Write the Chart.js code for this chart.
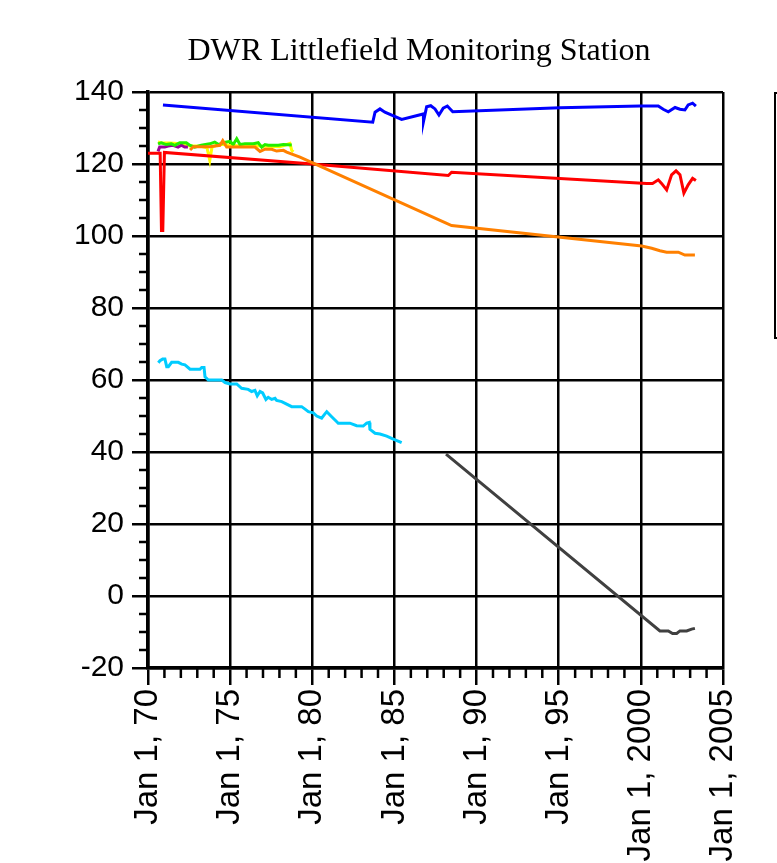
<!DOCTYPE html>
<html>
<head>
<meta charset="utf-8">
<script src="https://cdn.jsdelivr.net/npm/chart.js@4"></script>
<style>
  body { margin: 0; background: #fff; }
  canvas { display: block; }
</style>
</head>
<body>
<canvas id="levelChart" width="777" height="863"></canvas>
<script>
// Water levels (decimal year, level)
const blueYears = [1970.91, 1983.68, 1983.82, 1984.12, 1984.42, 1985.44, 1986.76, 1986.77, 1986.96, 1987.21, 1987.47, 1987.71, 1987.97, 1988.22, 1988.55, 1995.08, 1999.95, 2001.06, 2001.36, 2001.67, 2002.08, 2002.38, 2002.68, 2002.88, 2003.15, 2003.35];
const blueLevels = [136.4, 131.6, 134.4, 135.3, 134.4, 132.4, 133.9, 131.8, 135.9, 136.2, 135.3, 133.6, 135.5, 136.1, 134.5, 135.6, 136.1, 136.1, 135.2, 134.5, 135.7, 135.2, 135.0, 136.4, 136.9, 136.1];

const redYears = [1970.0, 1970.74, 1970.82, 1970.9, 1971.0, 1980.0, 1988.28, 1988.48, 2000.35, 2000.71, 2001.06, 2001.26, 2001.57, 2001.87, 2002.14, 2002.38, 2002.62, 2002.88, 2003.15, 2003.35];
const redLevels = [123.0, 123.0, 101.5, 101.5, 123.2, 120.0, 116.8, 117.7, 114.6, 114.6, 115.6, 114.6, 112.8, 117.0, 118.1, 117.0, 111.9, 114.2, 116.0, 115.4];

const orangeYears = [1972.56, 1972.76, 1973.77, 1974.38, 1974.55, 1974.79, 1976.51, 1976.82, 1977.12, 1977.53, 1977.83, 1978.24, 1978.44, 1979.25, 1988.08, 1988.48, 2000.05, 2000.66, 2001.16, 2001.57, 2002.28, 2002.68, 2003.29];
const orangeLevels = [123.9, 124.8, 124.8, 125.2, 126.5, 124.7, 124.7, 123.5, 124.1, 124.1, 123.6, 123.8, 123.3, 121.9, 103.7, 102.9, 97.2, 96.6, 95.9, 95.5, 95.5, 94.7, 94.7];

const greenYears = [1970.61, 1970.81, 1971.11, 1971.42, 1971.63, 1971.93, 1972.33, 1972.54, 1972.84, 1973.24, 1973.76, 1974.06, 1974.30, 1974.56, 1974.99, 1975.19, 1975.40, 1975.60, 1975.90, 1976.41, 1976.71, 1976.92, 1977.12, 1977.32, 1977.93, 1978.24, 1978.75];
const greenLevels = [125.6, 125.9, 125.4, 125.6, 125.2, 125.9, 125.9, 125.2, 124.7, 125.2, 125.6, 126.1, 125.4, 125.9, 126.3, 125.4, 127.0, 125.4, 125.6, 125.6, 125.9, 124.7, 125.4, 125.2, 125.2, 125.4, 125.3];

const purpleYears = [1970.61, 1970.71, 1971.02, 1971.22, 1971.52, 1971.83, 1972.03, 1972.23, 1972.43];
const purpleLevels = [123.5, 124.7, 124.7, 125.0, 125.2, 124.7, 125.2, 124.7, 124.7];

const yellowYears = [1970.61, 1970.85, 1971.34, 1971.95, 1972.56, 1973.16, 1973.59, 1973.76, 1973.90, 1974.38, 1975.60, 1976.82, 1978.03, 1978.64, 1978.75, 1978.85];
const yellowLevels = [126.1, 125.8, 125.8, 125.6, 125.0, 125.0, 124.5, 121.0, 124.8, 125.5, 125.0, 125.0, 124.8, 125.7, 123.8, 123.4];

const cyanYears = [1970.63, 1970.73, 1970.89, 1971.03, 1971.14, 1971.24, 1971.44, 1971.84, 1972.05, 1972.25, 1972.56, 1973.16, 1973.27, 1973.41, 1973.47, 1973.67, 1974.49, 1974.69, 1974.99, 1975.40, 1975.70, 1976.10, 1976.31, 1976.51, 1976.65, 1976.82, 1976.98, 1977.18, 1977.32, 1977.53, 1977.73, 1977.83, 1978.14, 1978.44, 1978.75, 1979.35, 1979.56, 1979.76, 1980.06, 1980.27, 1980.57, 1980.77, 1980.88, 1981.18, 1981.49, 1981.58, 1982.29, 1982.70, 1983.10, 1983.31, 1983.47, 1983.51, 1983.82, 1984.12, 1984.53, 1984.93, 1985.44];
const cyanLevels = [64.8, 65.4, 65.8, 65.8, 63.7, 63.7, 64.9, 64.9, 64.4, 64.2, 63.0, 63.0, 63.5, 63.5, 60.9, 60.0, 60.0, 59.3, 58.9, 58.9, 57.7, 57.4, 56.8, 57.1, 55.6, 56.8, 56.4, 54.6, 55.2, 54.6, 54.9, 54.3, 54.0, 53.3, 52.6, 52.6, 51.9, 51.2, 50.9, 50.0, 49.4, 50.6, 51.2, 49.8, 48.4, 48.0, 48.0, 47.3, 47.2, 48.0, 48.2, 46.3, 45.2, 45.0, 44.4, 43.6, 42.6];

const grayYears = [1988.14, 2001.16, 2001.67, 2001.93, 2002.18, 2002.38, 2002.79, 2003.09, 2003.29];
const grayLevels = [39.4, -9.7, -9.7, -10.4, -10.4, -9.7, -9.7, -9.2, -9.0];

// Axis ticks
const xTickYears = [1970, 1975, 1980, 1985, 1990, 1995, 2000, 2005];
const xTickLabels = ["Jan 1, 70", "Jan 1, 75", "Jan 1, 80", "Jan 1, 85", "Jan 1, 90", "Jan 1, 95", "Jan 1, 2000", "Jan 1, 2005"];
const titleText = "DWR Littlefield Monitoring Station";

const pts = (xs, ys) => xs.map((x, i) => ({ x: x, y: ys[i] }));

function series(xs, ys, color) {
  return {
    data: pts(xs, ys),
    borderColor: color,
    borderWidth: 3,
    pointRadius: 0,
    tension: 0,
    fill: false,
  };
}

// first dataset is drawn on top
const datasets = [
  series(orangeYears, orangeLevels, "#ff8000"),
  series(redYears, redLevels, "#ff0000"),
  series(blueYears, blueLevels, "#0000ff"),
  series(greenYears, greenLevels, "#22ee00"),
  series(purpleYears, purpleLevels, "#990099"),
  series(yellowYears, yellowLevels, "#ffff00"),
  series(cyanYears, cyanLevels, "#00ccff"),
  series(grayYears, grayLevels, "#404040"),
];

// minor ticks, title and the (clipped) legend frame
const extras = {
  id: "extras",
  afterDraw(chart) {
    const { ctx, chartArea, scales } = chart;
    ctx.save();
    ctx.strokeStyle = "#000";
    ctx.lineWidth = 2.5;
    ctx.beginPath();
    for (let v = -20; v <= 140; v += 5) {
      if (v % 20 === 0) continue;
      const y = scales.y.getPixelForValue(v);
      ctx.moveTo(chartArea.left - 9, y);
      ctx.lineTo(chartArea.left, y);
    }
    for (let yr = 1970; yr <= 2005; yr++) {
      if (yr % 5 === 0) continue;
      const x = scales.x.getPixelForValue(yr);
      ctx.moveTo(x, chartArea.bottom);
      ctx.lineTo(x, chartArea.bottom + 10);
    }
    ctx.stroke();

    ctx.fillStyle = "#000";
    ctx.font = '32px "Liberation Serif", "Times New Roman", serif';
    ctx.textAlign = "center";
    ctx.textBaseline = "middle";
    ctx.fillText(titleText, 419, 52);

    ctx.lineWidth = 2;
    ctx.strokeRect(chartArea.right + 52, chartArea.top + 1, 60, 245);
    ctx.restore();
  },
};

Chart.defaults.font.family = '"Liberation Sans", Arial, Helvetica, sans-serif';
Chart.defaults.color = "#000";

new Chart(document.getElementById("levelChart").getContext("2d"), {
  type: "line",
  data: { datasets: datasets },
  options: {
    responsive: false,
    animation: false,
    layout: { padding: { top: 92, right: 54, left: 0, bottom: 0 } },
    plugins: {
      legend: { display: false },
      title: { display: false },
      tooltip: { enabled: false },
    },
    scales: {
      x: {
        type: "linear",
        min: 1970,
        max: 2005,
        afterFit: (scale) => { scale.height = 195; },
        afterBuildTicks: (scale) => {
          scale.ticks = xTickYears.map((v) => ({ value: v }));
        },
        ticks: {
          autoSkip: false,
          maxRotation: 90,
          minRotation: 90,
          padding: 4,
          font: { size: 33 },
          color: "#000",
          callback: (v) => xTickLabels[xTickYears.indexOf(v)],
        },
        grid: { color: "#000", lineWidth: 2.5, tickLength: 17 },
        border: { color: "#000", width: 3.5 },
      },
      y: {
        min: -20,
        max: 140,
        afterFit: (scale) => { scale.width = 148; },
        ticks: {
          stepSize: 20,
          padding: 8,
          font: { size: 30 },
          color: "#000",
        },
        grid: { color: "#000", lineWidth: 2.5, tickLength: 16 },
        border: { color: "#000", width: 3.5 },
      },
    },
  },
  plugins: [extras],
});
</script>
</body>
</html>
